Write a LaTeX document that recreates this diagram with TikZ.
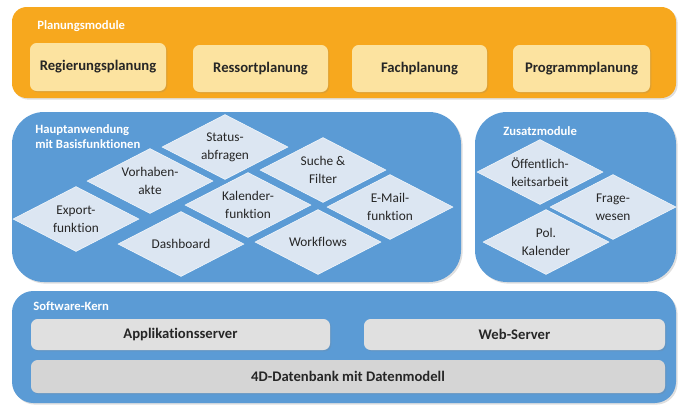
\documentclass[tikz,border=0pt]{standalone}
\usepackage{fontspec}
\setmainfont{Carlito}[Ligatures=NoCommon]
\usetikzlibrary{shapes.geometric,shadows}
\definecolor{planorange}{HTML}{F7A81E}
\definecolor{planbox}{HTML}{FCE3A0}
\definecolor{modblue}{HTML}{5B9BD5}
\definecolor{funcfill}{HTML}{DCE6F2}
\definecolor{kernbox}{HTML}{E0E0E0}
\definecolor{txtdark}{HTML}{262626}
\tikzset{
  panel/.style={rectangle, inner sep=0pt, drop shadow={opacity=0.25, shadow xshift=1.2pt, shadow yshift=-1.2pt}},
  title/.style={anchor=west, inner sep=0pt, text=white, font=\fontsize{9.5}{11.5}\selectfont\bfseries, align=left},
  modbox/.style={rectangle, rounded corners=5pt, inner sep=0pt, text=txtdark, font=\fontsize{11}{13}\selectfont\bfseries, drop shadow={opacity=0.2, shadow xshift=1pt, shadow yshift=-1pt}},
  func/.style={diamond, aspect=1.9, inner sep=0pt, minimum width=94.5pt, minimum height=48.75pt, fill=funcfill, draw=white!70!funcfill, line width=0.4pt, text=txtdark, font=\fontsize{10}{13.5}\selectfont, align=center}
}
\begin{document}
\begin{tikzpicture}[x=0.75pt, y=-0.75pt]
\useasboundingbox (0,0) rectangle (681,405);
\node[panel, fill=planorange, rounded corners=11pt, minimum width=498pt, minimum height=68.25pt] (plan) at (344, 52.5) {};
\node[title] (plantitle) at (37, 26) {Planungsmodule};
\node[modbox, fill=planbox, minimum width=102pt, minimum height=36pt] (reg) at (98, 67) {Regierungsplanung};
\node[modbox, fill=planbox, minimum width=101.25pt, minimum height=35.25pt] (res) at (260.5, 68.5) {Ressortplanung};
\node[modbox, fill=planbox, minimum width=101.25pt, minimum height=35.25pt] (fach) at (419.5, 68.5) {Fachplanung};
\node[modbox, fill=planbox, minimum width=102.75pt, minimum height=35.25pt] (prog) at (581.5, 68.5) {Programmplanung};
\node[panel, fill=modblue, rounded corners=24pt, minimum width=336.75pt, minimum height=127.5pt] (haupt) at (236.5, 197) {};
\node[panel, fill=modblue, rounded corners=24pt, minimum width=150.75pt, minimum height=127.5pt] (zusatz) at (575.5, 197) {};
\node[title] (hauptitle) at (35, 136.5) {Hauptanwendung\\mit Basisfunktionen};
\node[title] (zusatztitle) at (503, 131) {Zusatzmodule};
\node[func] (stat) at (225, 147) {Status-\\abfragen};
\node[func] (vorh) at (150, 181) {Vorhaben-\\akte};
\node[func] (expo) at (76, 219) {Export-\\funktion};
\node[func] (dash) at (181, 244) {Dashboard};
\node[func] (kal) at (248, 205) {Kalender-\\funktion};
\node[func] (such) at (323, 170) {Suche \&\\Filter};
\node[func] (mail) at (390, 207) {E-Mail-\\funktion};
\node[func] (work) at (318, 242) {Workflows};
\node[func] (oeff) at (540, 172) {Öffentlich-\\keitsarbeit};
\node[func] (frag) at (613, 207) {Frage-\\wesen};
\node[func] (pol) at (546, 242) {Pol.\\Kalender};
\node[panel, fill=modblue, rounded corners=16pt, minimum width=498pt, minimum height=84pt] (kern) at (344, 347) {};
\node[title] (kerntitle) at (33, 306) {Software-Kern};
\node[modbox, fill=kernbox, minimum width=224.25pt, minimum height=23.25pt] (app) at (180.5, 334.5) {Applikationsserver};
\node[modbox, fill=kernbox, minimum width=225.75pt, minimum height=23.25pt] (web) at (514.5, 334.5) {Web-Server};
\node[modbox, fill=kernbox!95!black, minimum width=475.5pt, minimum height=24.75pt] (db) at (348, 376.5) {4D-Datenbank mit Datenmodell};
\end{tikzpicture}
\end{document}
